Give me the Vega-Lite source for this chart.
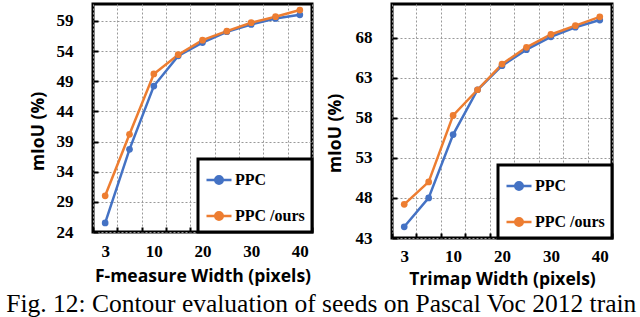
{
  "$schema": "https://vega.github.io/schema/vega-lite/v6.json",
  "padding": {"left": 5, "top": 2, "right": 5, "bottom": 0},
  "datasets": {
    "fm": [
      {"w": 3, "method": "PPC", "miou": 25.5},
      {"w": 5, "method": "PPC", "miou": 37.7},
      {"w": 10, "method": "PPC", "miou": 48.2},
      {"w": 15, "method": "PPC", "miou": 53.2},
      {"w": 20, "method": "PPC", "miou": 55.4},
      {"w": 25, "method": "PPC", "miou": 57.2},
      {"w": 30, "method": "PPC", "miou": 58.4},
      {"w": 35, "method": "PPC", "miou": 59.4},
      {"w": 40, "method": "PPC", "miou": 60.0},
      {"w": 3, "method": "PPC /ours", "miou": 30.0},
      {"w": 5, "method": "PPC /ours", "miou": 40.2},
      {"w": 10, "method": "PPC /ours", "miou": 50.2},
      {"w": 15, "method": "PPC /ours", "miou": 53.4},
      {"w": 20, "method": "PPC /ours", "miou": 55.8},
      {"w": 25, "method": "PPC /ours", "miou": 57.3},
      {"w": 30, "method": "PPC /ours", "miou": 58.7},
      {"w": 35, "method": "PPC /ours", "miou": 59.7},
      {"w": 40, "method": "PPC /ours", "miou": 60.8}
    ],
    "tri": [
      {"w": 3, "method": "PPC", "miou": 44.4},
      {"w": 5, "method": "PPC", "miou": 48.0},
      {"w": 10, "method": "PPC", "miou": 55.9},
      {"w": 15, "method": "PPC", "miou": 61.5},
      {"w": 20, "method": "PPC", "miou": 64.5},
      {"w": 25, "method": "PPC", "miou": 66.5},
      {"w": 30, "method": "PPC", "miou": 68.1},
      {"w": 35, "method": "PPC", "miou": 69.3},
      {"w": 40, "method": "PPC", "miou": 70.2},
      {"w": 3, "method": "PPC /ours", "miou": 47.2},
      {"w": 5, "method": "PPC /ours", "miou": 50.0},
      {"w": 10, "method": "PPC /ours", "miou": 58.3},
      {"w": 15, "method": "PPC /ours", "miou": 61.5},
      {"w": 20, "method": "PPC /ours", "miou": 64.7},
      {"w": 25, "method": "PPC /ours", "miou": 66.8},
      {"w": 30, "method": "PPC /ours", "miou": 68.4},
      {"w": 35, "method": "PPC /ours", "miou": 69.5},
      {"w": 40, "method": "PPC /ours", "miou": 70.6}
    ]
  },
  "title": {
    "text": "Fig. 12: Contour evaluation of seeds on Pascal Voc 2012 train",
    "orient": "bottom", "anchor": "middle",
    "font": "Liberation Serif", "fontSize": 25.5, "fontWeight": "normal",
    "color": "black", "offset": 2.5
  },
  "spacing": 80,
  "bounds": "flush",
  "resolve": {"legend": {"color": "independent"}, "scale": {"color": "independent"}},
  "config": {
    "view": {"stroke": "black", "strokeWidth": 3},
    "axis": {
      "domain": false, "grid": true, "gridColor": "#999999", "gridDash": [2, 2], "gridWidth": 1,
      "tickColor": "black", "tickWidth": 2, "tickSize": -5,
      "labelFont": "Liberation Serif", "labelFontWeight": "bold", "labelFontSize": 17, "labelColor": "black",
      "titleFont": "Open Sans", "titleFontWeight": "bold", "titleFontSize": 17.5, "titleColor": "black"
    },
    "legend": {
      "orient": "bottom-right", "offset": 0, "padding": 7, "rowPadding": 13,
      "fillColor": "white", "strokeColor": "black",
      "symbolType": "M-1,0L1,0M-0.3,0A0.3,0.3,0,1,1,0.3,0A0.3,0.3,0,1,1,-0.3,0Z",
      "symbolSize": 625, "symbolStrokeWidth": 2.5,
      "labelFont": "Liberation Serif", "labelFontWeight": "bold", "labelFontSize": 16, "labelColor": "black",
      "labelOffset": 2, "title": null
    }
  },
  "hconcat": [
    {
      "width": 219, "height": 228,
      "data": {"name": "fm"},
      "encoding": {
        "x": {
          "field": "w", "type": "ordinal",
          "scale": {"type": "band", "paddingInner": 0, "paddingOuter": 0},
          "axis": {
            "title": "F-measure Width (pixels)", "labelAngle": 0, "tickBand": "extent",
            "labelExpr": "indexof([3,10,20,30,40], datum.value) >= 0 ? datum.label : ''",
            "labelPadding": 16, "titleY": 44.5, "titleBaseline": "middle"
          }
        },
        "y": {
          "field": "miou", "type": "quantitative",
          "scale": {"domain": [24, 61.8], "nice": false, "zero": false},
          "axis": {
            "title": "mIoU (%)", "values": [24, 29, 34, 39, 44, 49, 54, 59],
            "labelPadding": 25, "titleX": -55, "titleY": 127, "titleBaseline": "middle"
          }
        },
        "color": {
          "field": "method", "type": "nominal",
          "scale": {"domain": ["PPC", "PPC /ours"], "range": ["#4472C4", "#ED7D31"]},
          "legend": {"encode": {"legend": {"update": {"strokeWidth": {"value": 3}}}}}
        }
      },
      "layer": [
        {"mark": {"type": "line", "strokeWidth": 2.5}},
        {"mark": {"type": "point", "filled": true, "size": 45, "opacity": 1}}
      ]
    },
    {
      "width": 220, "height": 234,
      "data": {"name": "tri"},
      "encoding": {
        "x": {
          "field": "w", "type": "ordinal",
          "scale": {"type": "band", "paddingInner": 0, "paddingOuter": 0},
          "axis": {
            "title": "Trimap Width (pixels)", "labelAngle": 0, "tickBand": "extent",
            "labelExpr": "indexof([3,10,20,30,40], datum.value) >= 0 ? datum.label : ''",
            "labelPadding": 15, "titleY": 41.5, "titleBaseline": "middle"
          }
        },
        "y": {
          "field": "miou", "type": "quantitative",
          "scale": {"domain": [43, 72.2], "nice": false, "zero": false},
          "axis": {
            "title": "mIoU (%)", "values": [43, 48, 53, 58, 63, 68],
            "labelPadding": 25, "titleX": -57, "titleY": 129, "titleBaseline": "middle"
          }
        },
        "color": {
          "field": "method", "type": "nominal",
          "scale": {"domain": ["PPC", "PPC /ours"], "range": ["#4472C4", "#ED7D31"]},
          "legend": {"encode": {"legend": {"update": {"strokeWidth": {"value": 3}}}}}
        }
      },
      "layer": [
        {"mark": {"type": "line", "strokeWidth": 2.5}},
        {"mark": {"type": "point", "filled": true, "size": 45, "opacity": 1}}
      ]
    }
  ]
}
